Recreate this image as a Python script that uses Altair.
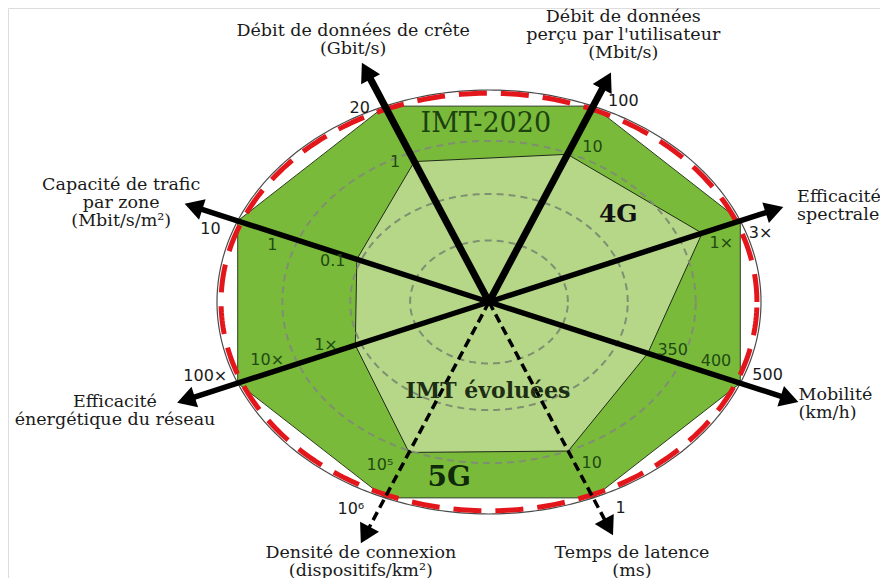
import altair as alt
import numpy as np
import pandas as pd

# ---------------- data ----------------
axis_names = [
    "Débit de données de crête\n(Gbit/s)",
    "Débit de données\nperçu par l'utilisateur\n(Mbit/s)",
    "Efficacité\nspectrale",
    "Mobilité\n(km/h)",
    "Temps de latence\n(ms)",
    "Densité de connexion\n(dispositifs/km²)",
    "Efficacité\nénergétique du réseau",
    "Capacité de trafic\npar zone\n(Mbit/s/m²)",
]
axis_angles = [112.5, 67.5, 22.5, -22.5, -67.5, -112.5, -157.5, 157.5]

imt2020_labels = ["20", "100", "3×", "500", "1", "10⁶", "100×", "10"]
imt2020_radius = [1.0, 1.0, 1.0, 1.0, 1.0, 1.0, 1.0, 1.0]

imt_adv_labels = ["1", "10", "1×", "350", "10", "10⁵", "1×", "0.1"]
imt_adv_radius = [0.717, 0.754, 0.848, 0.632, 0.761, 0.768, 0.532, 0.526]

mid_tick_axis = [3, 6, 7]
mid_tick_labels = ["400", "10×", "1"]
mid_tick_radius = [0.80, 0.76, 0.76]

ring_radius = [0.29, 0.51, 0.76]
dashed_axes = [4, 5]

series_names = ["IMT-2020", "4G", "IMT évoluées", "5G"]

# ---------------- layout / style ----------------
W, H = 872, 570
CX, CY = 489, 302
RX, RY = 272, 212
xmin = -(CX - 8) / RX
xmax = xmin + W / RX
ymax = (CY - 8) / RY
ymin = ymax - H / RY

ARROW_TIP = [1.22, 1.17, 1.17, 1.23, 1.19, 1.23, 1.24, 1.21]
SPOKE_W = [7, 7, 5.5, 5.5, 3.5, 3.5, 5.5, 5.5]
TICK_PAD = [0.03, 0.07, 0.05, 0.08, 0.085, 0.1, 0.1, 0.08]
TICK_ROT = [5, -5, -4.5, 4, 4, -5, -4, 4]
NAME_POS = [(1.333, 112.0, "center"), (1.353, 68.6, "center"), (1.22, 21.8, "left"),
            (1.236, -23.0, "left"), (1.334, -66.8, "center"), (1.315, -111.0, "center"),
            (1.468, -159.5, "center"), (1.43, 161.0, "center")]
NAME_LH = 18
SERIES_POS = {"IMT-2020": (0.84, 90.8, 27, "normal", "#1c4210"),
              "4G": (0.63, 41.0, 25, "bold", "#111111"),
              "IMT évoluées": (0.42, -90.5, 22, "bold", "#1d2e14"),
              "5G": (0.843, -100.0, 28, "bold", "#0f2a0a")}

OUTER_GREEN = "#7aba3a"
INNER_GREEN = "#b5d787"


def pol(r, deg):
    a = np.deg2rad(deg)
    return r * np.cos(a), r * np.sin(a)


XS = alt.Scale(domain=[xmin, xmax], nice=False, zero=False)
YS = alt.Scale(domain=[ymin, ymax], nice=False, zero=False)
X = lambda f="x": alt.X(f"{f}:Q", scale=XS, axis=None)
Y = lambda f="y": alt.Y(f"{f}:Q", scale=YS, axis=None)


# polygons
def poly_df(radii):
    xs, ys = zip(*[pol(r, a) for r, a in zip(radii, axis_angles)])
    return pd.DataFrame({"x": xs, "y": ys, "o": range(len(xs))})


outer_poly = alt.Chart(poly_df(imt2020_radius)).mark_line(
    interpolate="linear-closed", fill=OUTER_GREEN, stroke="#2c3d20", strokeWidth=1
).encode(x=X(), y=Y(), order="o:Q")

inner_poly = alt.Chart(poly_df(imt_adv_radius)).mark_line(
    interpolate="linear-closed", fill=INNER_GREEN, stroke="#1f2a18", strokeWidth=1
).encode(x=X(), y=Y(), order="o:Q")

# rings
t = np.linspace(0, 360, 361)


def ring_df(r, name):
    xs, ys = pol(r, t)
    return pd.DataFrame({"x": xs, "y": ys, "o": np.arange(len(t)), "ring": name})


rings = pd.concat([ring_df(r, f"r{i}") for i, r in enumerate(ring_radius)])
ring_layer = alt.Chart(rings).mark_line(
    stroke="#7f8f72", strokeWidth=2, strokeDash=[7, 5]
).encode(x=X(), y=Y(), order="o:Q", detail="ring:N")

outer_circle = alt.Chart(ring_df(1.0, "c")).mark_line(
    stroke="#4a4a4a", strokeWidth=1.2
).encode(x=X(), y=Y(), order="o:Q")
red_circle = alt.Chart(ring_df(0.985, "red")).mark_line(
    stroke="#e3161b", strokeWidth=5, strokeDash=[28, 14]
).encode(x=X(), y=Y(), order="o:Q")

# spokes and arrowheads
sp = []
for i, a in enumerate(axis_angles):
    tx, ty = pol(ARROW_TIP[i], a)
    ux, uy = np.cos(np.deg2rad(a)) * RX, np.sin(np.deg2rad(a)) * RY
    n = np.hypot(ux, uy)
    ux, uy = ux / n, uy / n
    hx, hy = tx - 9 * ux / RX, ty - 9 * uy / RY
    ang = np.degrees(np.arctan2(ux, uy)) % 360
    sp.append({"x": 0.0, "y": 0.0, "x2": hx, "y2": hy, "hx": hx, "hy": hy,
               "w": SPOKE_W[i], "ang": ang, "dashed": i in dashed_axes})
sp = pd.DataFrame(sp)

solid_spokes = alt.Chart(sp[~sp.dashed]).mark_rule(color="black").encode(
    x=X(), y=Y(), x2="x2:Q", y2="y2:Q", strokeWidth=alt.StrokeWidth("w:Q", scale=None))
dashed_spokes = alt.Chart(sp[sp.dashed]).mark_rule(color="black", strokeDash=[9, 5]).encode(
    x=X(), y=Y(), x2="x2:Q", y2="y2:Q", strokeWidth=alt.StrokeWidth("w:Q", scale=None))
heads = alt.Chart(sp).mark_point(shape="triangle-up", filled=True, color="black", size=460, opacity=1).encode(
    x=X("hx"), y=Y("hy"), angle=alt.Angle("ang:Q", scale=None))

# tick labels
ticks = []
for i in range(8):
    for lab, r, outer in [(imt2020_labels[i], imt2020_radius[i], True),
                          (imt_adv_labels[i], imt_adv_radius[i], False)]:
        x, y = pol(r + TICK_PAD[i], axis_angles[i] + TICK_ROT[i])
        ticks.append({"x": x, "y": y, "t": lab, "outer": outer})
for i, lab, r in zip(mid_tick_axis, mid_tick_labels, mid_tick_radius):
    x, y = pol(r + TICK_PAD[i], axis_angles[i] + TICK_ROT[i])
    ticks.append({"x": x, "y": y, "t": lab, "outer": False})
ticks = pd.DataFrame(ticks)

tick_outer = alt.Chart(ticks[ticks.outer]).mark_text(
    font="DejaVu Sans", fontSize=16, color="#1a1a1a", baseline="middle", align="center"
).encode(x=X(), y=Y(), text="t:N")
tick_inner = alt.Chart(ticks[~ticks.outer]).mark_text(
    font="DejaVu Sans", fontSize=16, color="#1f4a12", baseline="middle", align="center"
).encode(x=X(), y=Y(), text="t:N")

# axis names (multi-line blocks, first line placed so the block is centred)
name_layers = []
for align in ["center", "left"]:
    rows = []
    for i, (r, a, al) in enumerate(NAME_POS):
        if al == align:
            x, y = pol(r, a)
            nl = axis_names[i].count("\n")
            y = y + nl * NAME_LH / 2 / RY
            rows.append({"x": x, "y": y, "t": axis_names[i]})
    name_layers.append(alt.Chart(pd.DataFrame(rows)).mark_text(
        font="DejaVu Serif", fontSize=17.5, lineHeight=NAME_LH, lineBreak="\n", color="#1a1a1a",
        align=align, baseline="middle"
    ).encode(x=X(), y=Y(), text="t:N"))

# series labels
series_layers = []
for s in series_names:
    r, a, fs, fw, col = SERIES_POS[s]
    x, y = pol(r, a)
    series_layers.append(alt.Chart(pd.DataFrame({"x": [x], "y": [y], "t": [s]})).mark_text(
        font="DejaVu Serif", fontSize=fs, fontWeight=fw, color=col, align="center", baseline="middle"
    ).encode(x=X(), y=Y(), text="t:N"))

chart = alt.layer(
    outer_poly, inner_poly, ring_layer, outer_circle, red_circle,
    solid_spokes, dashed_spokes, heads, tick_outer, tick_inner,
    *name_layers, *series_layers
).properties(
    width=W, height=H, padding=0, autosize=alt.AutoSizeParams(type="none")
).configure_view(strokeWidth=0, stroke="transparent").configure(background="white")

chart.save("out.html", embed_options={"renderer": "svg", "actions": False})
